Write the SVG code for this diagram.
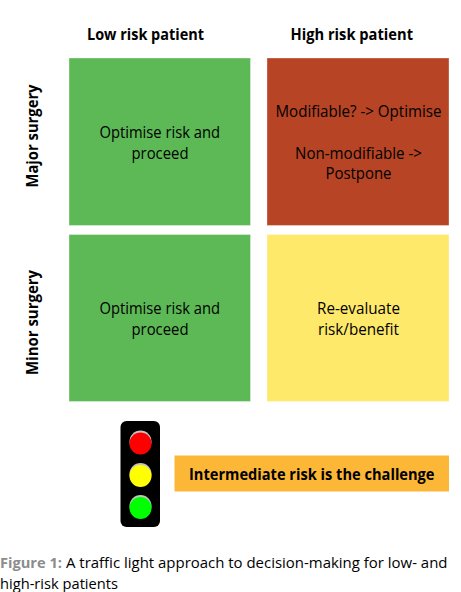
<svg xmlns="http://www.w3.org/2000/svg" width="461" height="592" viewBox="0 0 461 592">
<style>
text{font-family:"Open Sans","Noto Sans","Liberation Sans",sans-serif;fill:#000}
.c{font-size:16px}
.h{font-size:16px;font-weight:700}
.cap{font-size:15px}
.cell{stroke-width:1;stroke-opacity:.35;stroke:#fff}
</style>
<rect width="461" height="592" fill="#fff"/>
<g id="header-low"><text class="h" x="87" y="40" textLength="117" lengthAdjust="spacingAndGlyphs">Low risk patient</text></g>
<g id="header-high"><text class="h" x="290.500" y="40" textLength="122.500" lengthAdjust="spacingAndGlyphs">High risk patient</text></g>
<g id="row-major"><text class="h" transform="translate(38 187.500) rotate(-90)" textLength="103" lengthAdjust="spacingAndGlyphs">Major surgery</text></g>
<g id="row-minor"><text class="h" transform="translate(38 375) rotate(-90)" textLength="105" lengthAdjust="spacingAndGlyphs">Minor surgery</text></g>
<g id="cell-major-low">
<rect class="cell" x="69" y="58" width="181.500" height="167.500" fill="#5cb955"/>
<text class="c" x="99.500" y="137.700" textLength="120.500" lengthAdjust="spacingAndGlyphs">Optimise risk and</text>
<text class="c" x="131.500" y="158.600" textLength="57" lengthAdjust="spacingAndGlyphs">proceed</text>
</g>
<g id="cell-major-high">
<rect class="cell" x="267" y="58" width="182" height="167.500" fill="#b64425"/>
<text class="c" x="275.500" y="116.700" textLength="166" lengthAdjust="spacingAndGlyphs">Modifiable? -&gt; Optimise</text>
<text class="c" x="295" y="158.600" textLength="127" lengthAdjust="spacingAndGlyphs">Non-modifiable -&gt;</text>
<text class="c" x="325.500" y="179.300" textLength="66" lengthAdjust="spacingAndGlyphs">Postpone</text>
</g>
<g id="cell-minor-low">
<rect class="cell" x="69" y="234.500" width="181.500" height="167" fill="#5cb955"/>
<text class="c" x="99.500" y="313.700" textLength="120.500" lengthAdjust="spacingAndGlyphs">Optimise risk and</text>
<text class="c" x="131.500" y="334.600" textLength="57" lengthAdjust="spacingAndGlyphs">proceed</text>
</g>
<g id="cell-minor-high">
<rect class="cell" x="267" y="234.500" width="182" height="167" fill="#ffe96b"/>
<text class="c" x="317" y="313.700" textLength="83" lengthAdjust="spacingAndGlyphs">Re-evaluate</text>
<text class="c" x="318" y="334.600" textLength="81" lengthAdjust="spacingAndGlyphs">risk/benefit</text>
</g>
<g id="traffic-light">
<rect x="120.500" y="421" width="39.500" height="106" rx="6" fill="#000"/>
<circle cx="140.500" cy="441.500" r="11" fill="#c4c4c4"/>
<circle cx="140.500" cy="443.500" r="11" fill="#ff0000"/>
<circle cx="140.500" cy="474" r="11" fill="#c4c4c4"/>
<circle cx="140.500" cy="476" r="11" fill="#ffff00"/>
<circle cx="140.500" cy="506" r="11" fill="#c4c4c4"/>
<circle cx="140.500" cy="508" r="11" fill="#00ff00"/>
</g>
<g id="callout">
<rect x="174.500" y="455.500" width="274.500" height="36" fill="#fdb736"/>
<text class="h" x="189" y="480" textLength="245.500" lengthAdjust="spacingAndGlyphs">Intermediate risk is the challenge</text>
</g>
<g id="caption">
<text class="cap" x="0" y="568" textLength="62" lengthAdjust="spacingAndGlyphs" style="fill:#8c8c8c;font-weight:700">Figure 1:</text>
<text class="cap" x="66" y="568" textLength="381.500" lengthAdjust="spacingAndGlyphs">A traffic light approach to decision-making for low- and</text>
<text class="cap" x="0" y="588.500" textLength="118" lengthAdjust="spacingAndGlyphs">high-risk patients</text>
</g>
</svg>
